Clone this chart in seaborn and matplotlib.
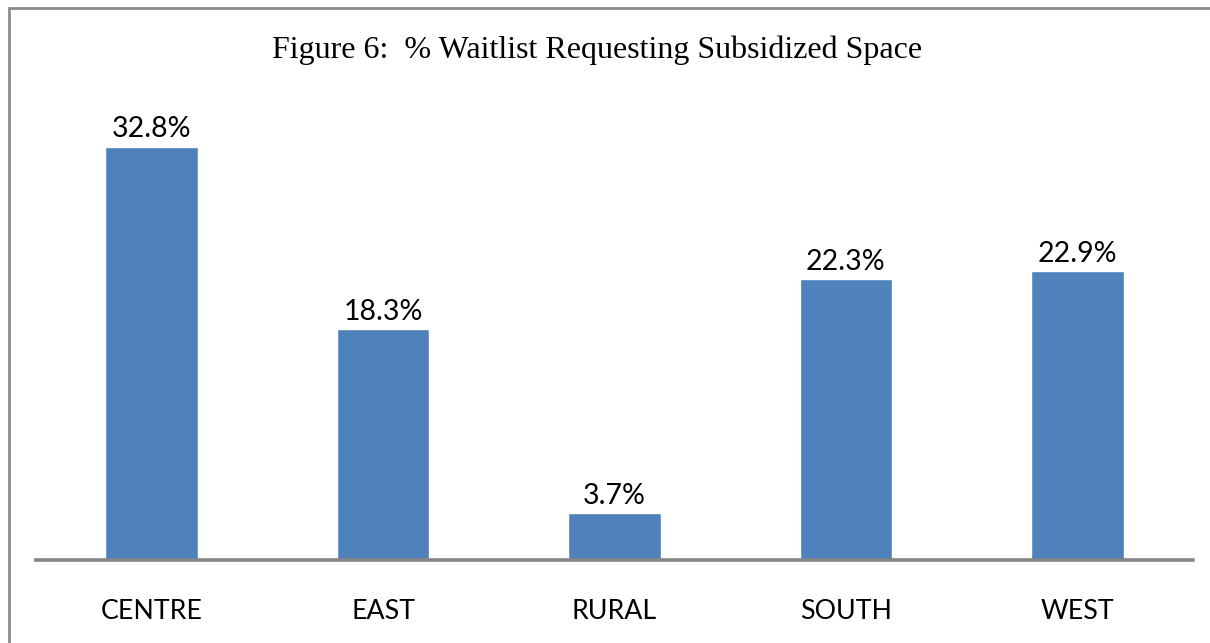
import matplotlib
matplotlib.use("Agg")
import matplotlib.pyplot as plt
import seaborn as sns
import pandas as pd
from matplotlib.patches import Rectangle

regions = ["CENTRE", "EAST", "RURAL", "SOUTH", "WEST"]
pct_values = [32.8, 18.3, 3.7, 22.3, 22.9]
value_labels = ["32.8%", "18.3%", "3.7%", "22.3%", "22.9%"]
title = "Figure 6:  % Waitlist Requesting Subsidized Space"

sns.set_theme(style="white")
plt.rcParams['font.family'] = ['Lato', 'DejaVu Sans']

W, H = 1210, 643
fig = plt.figure(figsize=(W / 100, H / 100), dpi=100)
ax = fig.add_axes([36 / W, (H - 560) / H, (1193 - 36) / W, (560 - 100) / H])

df = pd.DataFrame({"region": regions, "pct": pct_values})
sns.barplot(data=df, x="region", y="pct", color="#4F81BD", saturation=1,
            width=0.4, ax=ax)

ax.set_ylim(0, 36.5)
ax.set_xlim(-0.5, len(regions) - 0.5)
for s in ["top", "right", "left"]:
    ax.spines[s].set_visible(False)
ax.spines["bottom"].set_color("#868686")
ax.spines["bottom"].set_linewidth(2.6)
ax.set_yticks([])
ax.set_xlabel("")
ax.set_ylabel("")
ax.tick_params(axis="x", length=0, pad=28, labelsize=19.3, colors="black")

for cont in ax.containers:
    ax.bar_label(cont, labels=value_labels, padding=3, fontsize=20.5, color="black")

fig.text(597 / W, 1 - 50 / H, title, ha="center", va="center",
         fontsize=23, family="Liberation Serif", color="black")

# outer frame (partly cropped at right and bottom)
fig.patches.append(Rectangle((9 / W, -0.1), 1.2, 1 - 8 / H + 0.1,
                             transform=fig.transFigure, fill=False,
                             edgecolor="#8C8C8C", linewidth=2.0))

fig.savefig("out.png", dpi=100)
